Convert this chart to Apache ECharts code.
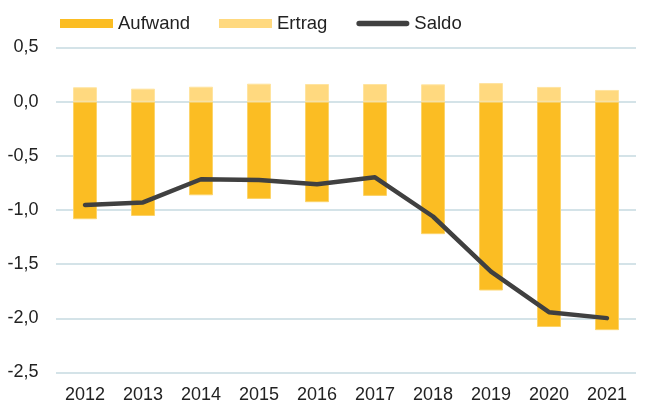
<!DOCTYPE html>
<html>
<head>
<meta charset="utf-8">
<script src="https://cdn.jsdelivr.net/npm/echarts@6/dist/echarts.min.js"></script>
<style>
  html, body { margin: 0; padding: 0; background: #fff; }
  #chart { width: 647px; height: 405px; }
</style>
</head>
<body>
<div id="chart"></div>
<script>
// Jahre und Werte
const years = ['2012', '2013', '2014', '2015', '2016', '2017', '2018', '2019', '2020', '2021'];
const aufwand = [-1.085, -1.055, -0.864, -0.898, -0.928, -0.870, -1.223, -1.743, -2.080, -2.109];
const ertrag = [0.133, 0.120, 0.138, 0.166, 0.163, 0.163, 0.160, 0.172, 0.136, 0.108];
const saldo = [-0.953, -0.930, -0.716, -0.722, -0.762, -0.698, -1.060, -1.568, -1.943, -1.998];

const fmt = v => v.toFixed(1).replace('.', ',');

// Legendensymbol für die Linie: abgerundeter Balken in einem 53x9-Rahmen
const lineIcon = 'path://M0,0L0,0.01M53,9L53,8.99M2.75,1.75L50.25,1.75A2.75,2.75,0,0,1,50.25,7.25L2.75,7.25A2.75,2.75,0,0,1,2.75,1.75Z';

const chart = echarts.init(document.getElementById('chart'));
chart.setOption({
  animation: false,
  textStyle: { fontFamily: 'Liberation Sans, Arial, sans-serif' },
  legend: {
    left: 55,
    top: 9,
    itemWidth: 53,
    itemHeight: 9,
    itemGap: 29,
    itemStyle: { borderWidth: 0 },
    textStyle: { fontSize: 18.5, color: '#222' },
    data: [
      { name: 'Aufwand', icon: 'rect' },
      { name: 'Ertrag', icon: 'rect' },
      { name: 'Saldo', icon: lineIcon, itemStyle: { color: '#404040', borderWidth: 0 } }
    ]
  },
  grid: { left: 56, right: 11, top: 47.5, bottom: 32.5, containLabel: false },
  xAxis: {
    type: 'category',
    data: years,
    axisLine: { show: false },
    axisTick: { show: false },
    axisLabel: { fontSize: 18, color: '#222', margin: 14 }
  },
  yAxis: {
    type: 'value',
    min: -2.5,
    max: 0.5,
    interval: 0.5,
    axisLine: { show: false },
    axisTick: { show: false },
    axisLabel: { fontSize: 18, color: '#222', margin: 17.5, formatter: fmt },
    splitLine: { lineStyle: { color: '#C6DAE1', width: 1.5 } }
  },
  series: [
    {
      name: 'Aufwand',
      type: 'bar',
      data: aufwand,
      barWidth: 24,
      barGap: '-100%',
      itemStyle: { color: '#FBBD23', borderColor: '#FCD46A', borderWidth: 1 }
    },
    {
      name: 'Ertrag',
      type: 'bar',
      data: ertrag,
      barWidth: 24,
      itemStyle: { color: '#FFD97F', borderColor: '#FFE4A0', borderWidth: 1 }
    },
    {
      name: 'Saldo',
      type: 'line',
      data: saldo,
      symbol: 'none',
      lineStyle: { color: '#404040', width: 4.5, cap: 'round', join: 'round' },
      itemStyle: { color: '#404040' }
    }
  ]
});
</script>
</body>
</html>
